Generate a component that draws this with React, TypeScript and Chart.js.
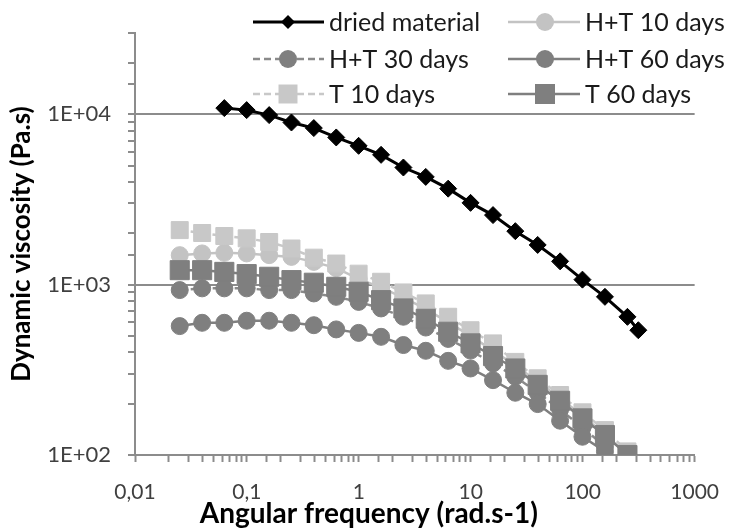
import React, { useEffect, useRef } from 'react';
import { Chart, registerables } from 'chart.js';

Chart.register(...registerables);

// ---- data ----
const freqDried = [0.0628, 0.0995, 0.158, 0.25, 0.396, 0.628, 0.995, 1.58, 2.5, 3.96, 6.28, 9.95, 15.8, 25, 39.6, 62.8, 99.5, 158, 251, 314];
const freqSamples = [0.0251, 0.0398, 0.0628, 0.0995, 0.158, 0.25, 0.396, 0.628, 0.995, 1.58, 2.5, 3.96, 6.28, 9.95, 15.8, 25, 39.6, 62.8, 99.5, 158, 251];

const driedMaterial = [10870, 10580, 9890, 8950, 8300, 7310, 6530, 5780, 4870, 4290, 3660, 3020, 2560, 2060, 1710, 1370, 1070, 848, 647, 540];
const ht10Days = [1490, 1525, 1537, 1525, 1490, 1455, 1360, 1250, 1080, 960, 840, 720, 600, 500, 410, 335, 270, 215, 170, 132, 100];
const ht30Days = [929, 951, 951, 951, 929, 929, 888, 848, 792, 725, 648, 560, 480, 410, 345, 288, 232, 185, 145, 112];
const ht60Days = [571, 597, 597, 614, 614, 597, 578, 546, 521, 494, 442, 409, 357, 322, 275, 232, 199, 159, 128, 105];
const t10Days = [2090, 2010, 1930, 1870, 1780, 1630, 1440, 1330, 1160, 1040, 900, 776, 648, 540, 452, 352, 282, 225, 178, 140, 105];
const t60Days = [1216, 1216, 1188, 1153, 1112, 1063, 1026, 971, 908, 811, 725, 630, 529, 452, 381, 322, 258, 208, 164, 131, 100];

const seriesLabels = ['dried material', 'H+T 10 days', 'H+T 30 days', 'H+T 60 days', 'T 10 days', 'T 60 days'];

const xTitle = 'Angular frequency (rad.s-1)';
const yTitle = 'Dynamic viscosity (Pa.s)';
const xMin = 0.01;
const xMax = 1000;
const yMin = 100;
const yMax = 30000;

// ---- styles ----
const FONT = 'Lato';
const AXIS_GRAY = '#8c8c8c';
const LIGHT = '#c3c3c3';
const DARK = '#7f7f7f';

const toPts = (xs: number[], ys: number[]) => ys.map((y, i) => ({ x: xs[i], y }));

const isPow10 = (v: number) => {
  const l = Math.log10(v);
  return Math.abs(l - Math.round(l)) < 1e-6;
};

function drawMarker(ctx: CanvasRenderingContext2D, style: string, x: number, y: number, r: number, color: string) {
  ctx.fillStyle = color;
  ctx.beginPath();
  if (style === 'circle') {
    ctx.arc(x, y, r, 0, Math.PI * 2);
  } else if (style === 'rect') {
    ctx.rect(x - r, y - r, 2 * r, 2 * r);
  } else {
    ctx.moveTo(x, y - r);
    ctx.lineTo(x + r, y);
    ctx.lineTo(x, y + r);
    ctx.lineTo(x - r, y);
    ctx.closePath();
  }
  ctx.fill();
}

const LEGEND_ROWS = [22, 59, 94];
const LEGEND_COLS = [
  { x0: 253, x1: 324, xm: 288, xt: 329 },
  { x0: 508, x1: 580, xm: 545, xt: 585 },
];
const LEGEND_MARKER = [7, 9, 9, 9, 9.5, 10];

const legendPlugin = {
  id: 'customLegend',
  afterDraw(chart: any) {
    const ctx: CanvasRenderingContext2D = chart.ctx;
    chart.data.datasets.forEach((ds: any, i: number) => {
      const col = LEGEND_COLS[i % 2];
      const y = LEGEND_ROWS[Math.floor(i / 2)];
      ctx.save();
      ctx.strokeStyle = ds.borderColor;
      ctx.lineWidth = ds.borderWidth;
      ctx.setLineDash(ds.borderDash || []);
      ctx.beginPath();
      ctx.moveTo(col.x0, y);
      ctx.lineTo(col.x1, y);
      ctx.stroke();
      ctx.setLineDash([]);
      drawMarker(ctx, ds.pointStyle, col.xm, y, LEGEND_MARKER[i], ds.pointBackgroundColor);
      ctx.fillStyle = '#1a1a1a';
      ctx.font = `25px ${FONT}`;
      ctx.textBaseline = 'middle';
      ctx.textAlign = 'left';
      ctx.fillText(ds.label, col.xt, y + 1);
      ctx.restore();
    });
  },
};

// x-axis title, drawn under the axis (the reference places it left of the plot centre)
const xTitlePlugin = {
  id: 'xTitle',
  afterDraw(chart: any) {
    const ctx: CanvasRenderingContext2D = chart.ctx;
    const xs = chart.scales.x;
    ctx.save();
    ctx.fillStyle = '#000000';
    ctx.font = `bold 28px ${FONT}`;
    ctx.textAlign = 'center';
    ctx.textBaseline = 'middle';
    ctx.fillText(xTitle, (xs.left + xs.right) / 2 - 46, xs.bottom - 15);
    ctx.restore();
  },
};

export default function App() {
  const ref = useRef<HTMLCanvasElement | null>(null);

  useEffect(() => {
    if (!ref.current) return;
    const ds = (label: string, data: any[], color: string, lineColor: string, style: string, radius: number, dash: number[], width: number, order: number) => ({
      label,
      data,
      borderColor: lineColor,
      backgroundColor: color,
      pointBackgroundColor: color,
      pointBorderColor: color,
      pointBorderWidth: 1,
      pointStyle: style,
      pointRadius: radius,
      borderWidth: width,
      borderDash: dash,
      tension: 0,
      order,
    });

    const chart = new Chart(ref.current, {
      type: 'line',
      data: {
        datasets: [
          ds(seriesLabels[0], toPts(freqDried, driedMaterial), '#000000', '#000000', 'rectRot', 8.5, [], 3, 0),
          ds(seriesLabels[1], toPts(freqSamples, ht10Days), LIGHT, LIGHT, 'circle', 8.5, [], 2.5, 5),
          ds(seriesLabels[2], toPts(freqSamples, ht30Days), DARK, '#8a8a8a', 'circle', 8.5, [7, 4], 2.5, 4),
          ds(seriesLabels[3], toPts(freqSamples, ht60Days), DARK, DARK, 'circle', 8.5, [], 2.5, 2),
          ds(seriesLabels[4], toPts(freqSamples, t10Days), '#c8c8c8', '#c8c8c8', 'rect', 12, [7, 4], 2.5, 3),
          ds(seriesLabels[5], toPts(freqSamples, t60Days), DARK, DARK, 'rect', 13.5, [], 2.5, 1),
        ],
      },
      options: {
        responsive: false,
        animation: false,
        devicePixelRatio: 1,
        layout: { padding: { left: 0, right: 27, top: 33, bottom: 0 } },
        plugins: {
          legend: { display: false },
          tooltip: { enabled: false },
        },
        scales: {
          x: {
            type: 'logarithmic',
            min: xMin,
            max: xMax,
            afterFit: (s: any) => { s.height = 74; },
            border: { display: true, color: AXIS_GRAY, width: 2 },
            grid: {
              drawOnChartArea: false,
              drawTicks: true,
              tickLength: 7,
              tickColor: AXIS_GRAY,
              tickWidth: 2,
            },
            ticks: {
              autoSkip: false,
              maxRotation: 0,
              minRotation: 0,
              padding: 18,
              color: '#404040',
              font: { family: FONT, size: 21 },
              callback: (v: any) => {
                const n = Number(v);
                if (!isPow10(n)) return '';
                const e = Math.round(Math.log10(n));
                return e < 0 ? '0,' + '0'.repeat(-e - 1) + '1' : String(Math.pow(10, e));
              },
            },
            title: { display: false },
          },
          y: {
            type: 'logarithmic',
            min: yMin,
            max: yMax,
            afterFit: (s: any) => { s.width = 135; },
            border: { display: true, color: AXIS_GRAY, width: 2 },
            grid: {
              drawTicks: true,
              tickLength: 7,
              tickWidth: 2,
              tickColor: AXIS_GRAY,
              lineWidth: 2,
              color: (c: any) => {
                const v = c.tick ? c.tick.value : 0;
                return isPow10(v) && v > yMin ? AXIS_GRAY : 'rgba(0,0,0,0)';
              },
            },
            ticks: {
              autoSkip: false,
              padding: 17,
              color: '#404040',
              font: { family: FONT, size: 22 },
              callback: (v: any) => {
                const n = Number(v);
                if (!isPow10(n)) return '';
                const e = Math.round(Math.log10(n));
                return '1E+' + (e < 10 ? '0' : '') + e;
              },
            },
            title: {
              display: true,
              text: yTitle,
              color: '#000000',
              font: { family: FONT, size: 26, weight: 'bold' },
              padding: { top: 6, bottom: 0 },
            },
          },
        },
      },
      plugins: [legendPlugin, xTitlePlugin],
    } as any);

    return () => chart.destroy();
  }, []);

  return (
    <div style={{ position: 'fixed', left: 0, top: 0, width: 737, height: 529, background: '#ffffff' }}>
      <canvas ref={ref} width={737} height={529} />
    </div>
  );
}
